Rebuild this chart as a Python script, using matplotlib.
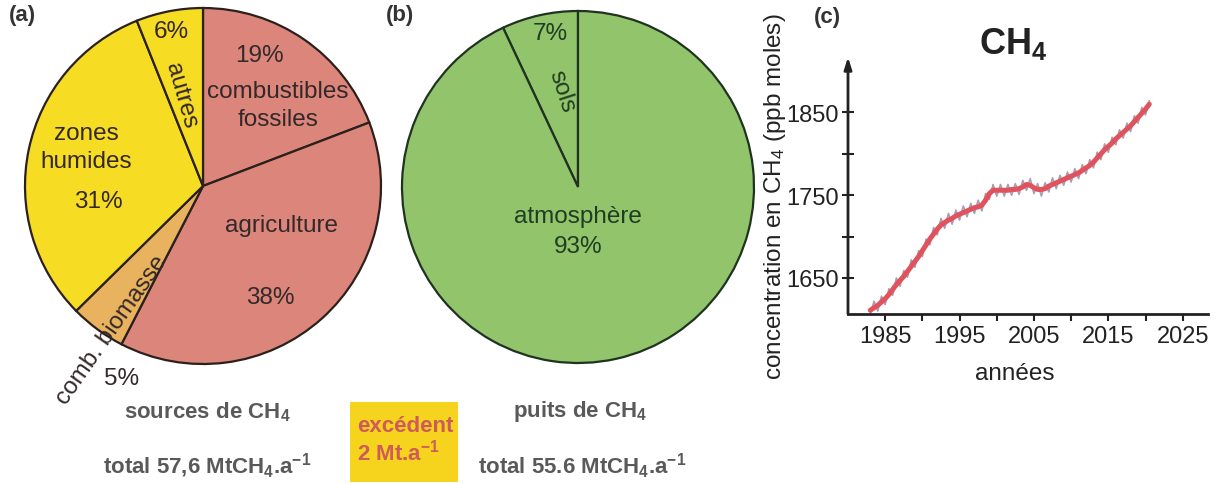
import numpy as np
import matplotlib
matplotlib.use("Agg")
import matplotlib.pyplot as plt
from matplotlib.patches import Rectangle

plt.rcParams["font.family"] = ["Liberation Sans", "DejaVu Sans"]
plt.rcParams["mathtext.default"] = "regular"

# (a) sources de CH4, in %, clockwise from the top
source_labels = ["combustibles\nfossiles", "agriculture", "comb. biomasse", "zones\nhumides", "autres"]
source_values = [19, 38, 5, 31, 6]
source_colors = ["#dc857b", "#dc857b", "#e8b25e", "#f6dc22", "#f6dc22"]

# (b) puits de CH4, in %
sink_labels = ["sols", "atmosphère"]
sink_values = [7, 93]

# (c) CH4 concentration (ppb), half-year steps 1983.0 .. 2020.5
ch4_years = np.arange(1983.0, 2021.0, 0.5)
ch4_trend = [1611, 1614, 1617, 1621, 1625, 1630, 1636, 1642, 1647, 1652,
             1658, 1664, 1670, 1676, 1683, 1690, 1697, 1703, 1709, 1714,
             1717, 1720, 1722, 1725, 1727, 1729, 1731, 1733, 1735, 1736,
             1738, 1744, 1752, 1756, 1756, 1756, 1756, 1756, 1757, 1757,
             1758, 1760, 1763, 1762, 1759, 1757, 1757, 1758, 1761, 1763,
             1765, 1767, 1769, 1771, 1773, 1775, 1777, 1780, 1783, 1786,
             1790, 1795, 1800, 1805, 1809, 1813, 1818, 1822, 1826, 1830,
             1834, 1839, 1844, 1849, 1854, 1860]
ch4_raw = [1606, 1622, 1610, 1628, 1618, 1637, 1629, 1650, 1640, 1659,
           1651, 1672, 1663, 1683, 1676, 1697, 1690, 1711, 1702, 1722,
           1710, 1728, 1715, 1732, 1720, 1737, 1724, 1740, 1728, 1744,
           1731, 1752, 1745, 1763, 1749, 1763, 1749, 1763, 1750, 1764,
           1751, 1768, 1756, 1770, 1752, 1764, 1749, 1765, 1754, 1771,
           1758, 1774, 1762, 1778, 1766, 1782, 1770, 1787, 1776, 1793,
           1783, 1802, 1793, 1812, 1802, 1820, 1811, 1829, 1819, 1837,
           1827, 1846, 1837, 1856, 1847, 1864]

W, H = 1221, 485
fig = plt.figure(figsize=(W / 100, H / 100), dpi=100)


def px(x, y):
    return x / W, 1 - y / H


def ftext(x, y, s, **kw):
    kw.setdefault("ha", "center")
    kw.setdefault("va", "center")
    fig.text(*px(x, y), s, **kw)


def pie_axes(cx, cy, r, pad=1.03):
    return fig.add_axes([(cx - r * pad) / W, 1 - (cy + r * pad) / H,
                         2 * r * pad / W, 2 * r * pad / H])


# ---- (a) sources
ax_a = pie_axes(203, 187, 178)
ax_a.pie(source_values, colors=source_colors, startangle=90, counterclock=False,
         wedgeprops=dict(edgecolor="#2b211c", linewidth=1.6))
ax_a.set_xlim(-1.03, 1.03)
ax_a.set_ylim(-1.03, 1.03)

dark = "#33282a"
fs = 17.5
ftext(22, 16, "(a)", fontsize=16, fontweight="bold", color="#333333")
ftext(259, 56, f"{source_values[0]}%", fontsize=fs, color=dark)
ftext(278, 106, source_labels[0], fontsize=fs, color=dark, linespacing=1.3)
ftext(281, 226, source_labels[1], fontsize=fs, color=dark)
ftext(270, 298, f"{source_values[1]}%", fontsize=fs, color=dark)
ftext(112, 330, source_labels[2], fontsize=fs, color=dark, rotation=55,
      rotation_mode="anchor")
ftext(122, 379, f"{source_values[2]}%", fontsize=fs, color=dark)
ftext(86, 148, source_labels[3], fontsize=fs, color=dark, linespacing=1.3)
ftext(98, 202, f"{source_values[3]}%", fontsize=fs, color=dark)
ftext(171, 32, f"{source_values[4]}%", fontsize=fs, color=dark)
ftext(181, 96, source_labels[4], fontsize=fs, color=dark, rotation=-74,
      rotation_mode="anchor")

# ---- (b) sinks
ax_b = pie_axes(578, 188, 176)
ax_b.pie(sink_values, colors=["#92c46c", "#92c46c"], startangle=90, counterclock=True,
         wedgeprops=dict(edgecolor="#1f3320", linewidth=1.6))
ax_b.set_xlim(-1.03, 1.03)
ax_b.set_ylim(-1.03, 1.03)

green_txt = "#203c22"
ftext(400, 16, "(b)", fontsize=16, fontweight="bold", color="#333333")
ftext(550, 34, f"{sink_values[0]}%", fontsize=fs, color=green_txt)
ftext(562, 92, sink_labels[0], fontsize=fs, color=green_txt, rotation=-72,
      rotation_mode="anchor")
ftext(578, 217, sink_labels[1], fontsize=fs, color=green_txt)
ftext(578, 247, f"{sink_values[1]}%", fontsize=fs, color=green_txt)

# ---- bottom totals
gray = "#595959"
ftext(207, 412, "sources de CH$_4$", fontsize=16, fontweight="bold", color=gray)
ftext(207, 466, "total 57,6 MtCH$_4$.a$^{-1}$", fontsize=16, fontweight="bold", color=gray)
ftext(580, 412, "puits de CH$_4$", fontsize=16, fontweight="bold", color=gray)
ftext(582, 466, "total 55.6 MtCH$_4$.a$^{-1}$", fontsize=16, fontweight="bold", color=gray)

x0, y0 = px(350, 483)
x1, y1 = px(458, 403)
fig.patches.append(Rectangle((x0, y0), x1 - x0, y1 - y0, transform=fig.transFigure,
                             facecolor="#f6d31c", edgecolor="none", zorder=0))
ftext(405, 427, "excédent", fontsize=16, fontweight="bold", color="#cf5a5a")
ftext(398, 453, "2 Mt.a$^{-1}$", fontsize=16, fontweight="bold", color="#cf5a5a")

# ---- (c) CH4 time series
ax_c = fig.add_axes([848 / W, 1 - 315 / H, (1208 - 848) / W, (315 - 58) / H])
ax_c.plot(ch4_years, ch4_raw, color="#9c8aa6", linewidth=1.2, alpha=0.85)
ax_c.plot(ch4_years, ch4_trend, color="#e0525c", linewidth=3.6, solid_capstyle="round")
ax_c.set_xlim(1980.0, 2028.4)
ax_c.set_ylim(1606.5, 1917)

ax_c.set_xticks(np.arange(1985, 2026, 10))
ax_c.set_xticks(np.arange(1990, 2021, 10), minor=True)
ax_c.set_yticks([1650, 1750, 1850])
ax_c.set_yticks([1700, 1800], minor=True)
ax_c.tick_params(axis="x", which="both", direction="out", length=5, width=1.5,
                 pad=3, labelsize=17, colors="#222222")
ax_c.tick_params(axis="y", which="both", direction="inout", length=9, width=1.5,
                 pad=2, labelsize=17, colors="#222222")
for side in ("top", "right", "left"):
    ax_c.spines[side].set_visible(False)
ax_c.spines["bottom"].set_linewidth(2.0)
ax_c.spines["bottom"].set_color("#222222")
ax_c.annotate("", xy=(0, 1), xytext=(0, 0), xycoords="axes fraction",
              arrowprops=dict(arrowstyle="-|>,head_length=0.7,head_width=0.22",
                              color="#222222", linewidth=2.0, shrinkA=0, shrinkB=0))
ax_c.patch.set_alpha(0)

ftext(827, 17, "(c)", fontsize=16, fontweight="bold", color="#333333")
ftext(1013, 44, "CH$_4$", fontsize=26, fontweight="bold", color="#222222")
ftext(775, 197, "concentration en CH$_4$ (ppb moles)", fontsize=17.5, rotation=90,
      color="#222222")
ftext(1015, 374, "années", fontsize=17.5, color="#222222")

fig.savefig("out.png", dpi=100)
